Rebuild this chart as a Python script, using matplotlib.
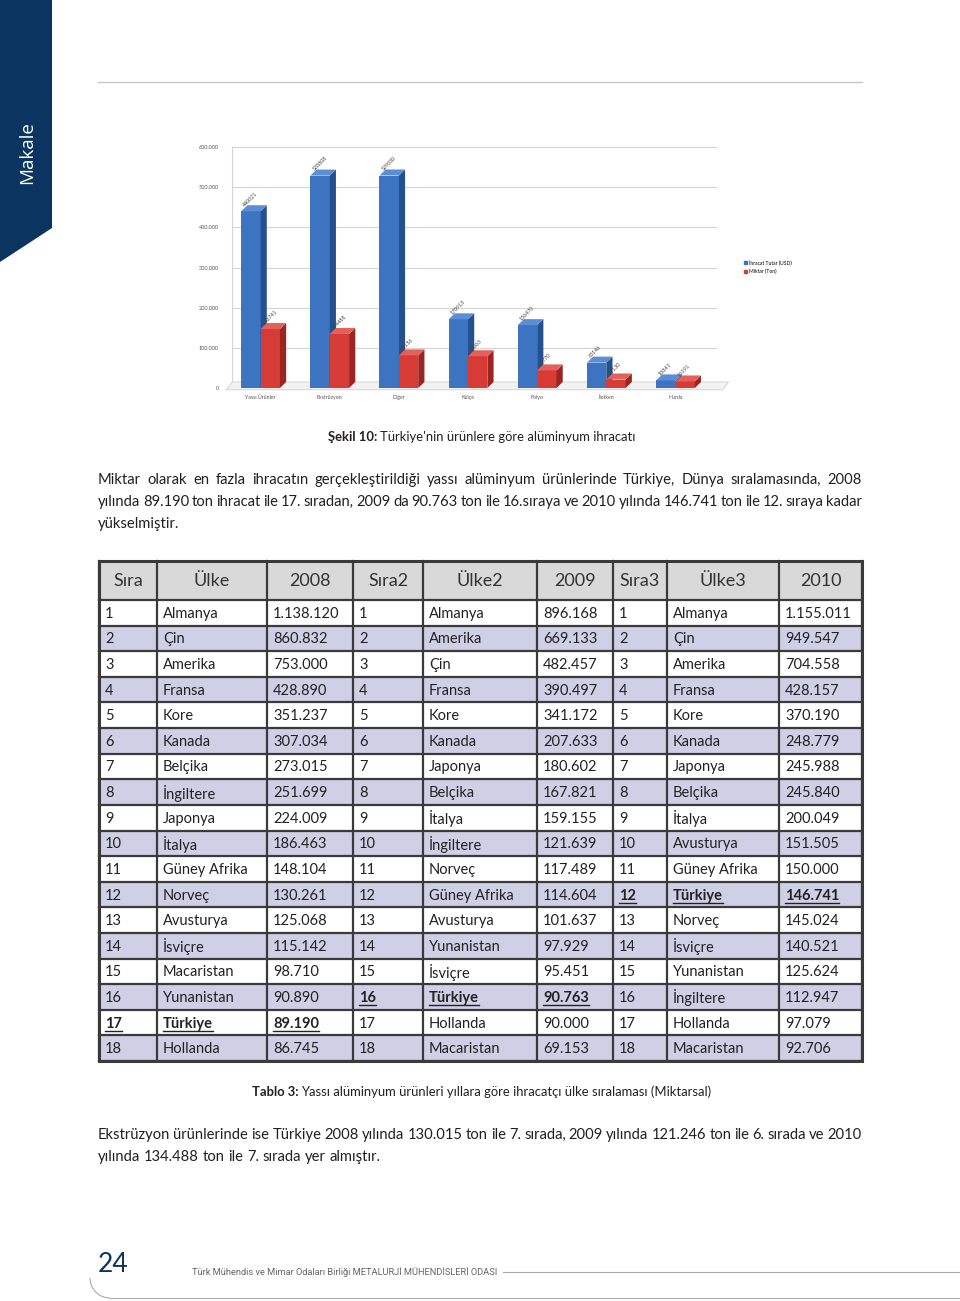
import matplotlib.pyplot as plt
import matplotlib.patches as patches
from matplotlib.patches import Polygon, Patch

plt.rcParams['font.family'] = ['Lato', 'DejaVu Sans']

# chart data
categories = ["Yassı Ürünler", "Ekstrüzyon", "Diğer", "Külçe", "Folyo", "İletken", "Hurda"]
usd_values = [440021, 528808, 529030, 170913, 156470, 63146, 18841]
ton_values = [146741, 134488, 81156, 79063, 43770, 21130, 16191]
y_ticks = [0, 100000, 200000, 300000, 400000, 500000, 600000]

# table data
headers = ["Sıra", "Ülke", "2008", "Sıra2", "Ülke2", "2009", "Sıra3", "Ülke3", "2010"]
ranks = [str(i) for i in range(1, 19)]
countries_2008 = ["Almanya", "Çin", "Amerika", "Fransa", "Kore", "Kanada", "Belçika", "İngiltere",
                  "Japonya", "İtalya", "Güney Afrika", "Norveç", "Avusturya", "İsviçre",
                  "Macaristan", "Yunanistan", "Türkiye", "Hollanda"]
values_2008 = ["1.138.120", "860.832", "753.000", "428.890", "351.237", "307.034", "273.015",
               "251.699", "224.009", "186.463", "148.104", "130.261", "125.068", "115.142",
               "98.710", "90.890", "89.190", "86.745"]
countries_2009 = ["Almanya", "Amerika", "Çin", "Fransa", "Kore", "Kanada", "Japonya", "Belçika",
                  "İtalya", "İngiltere", "Norveç", "Güney Afrika", "Avusturya", "Yunanistan",
                  "İsviçre", "Türkiye", "Hollanda", "Macaristan"]
values_2009 = ["896.168", "669.133", "482.457", "390.497", "341.172", "207.633", "180.602",
               "167.821", "159.155", "121.639", "117.489", "114.604", "101.637", "97.929",
               "95.451", "90.763", "90.000", "69.153"]
countries_2010 = ["Almanya", "Çin", "Amerika", "Fransa", "Kore", "Kanada", "Japonya", "Belçika",
                  "İtalya", "Avusturya", "Güney Afrika", "Türkiye", "Norveç", "İsviçre",
                  "Yunanistan", "İngiltere", "Hollanda", "Macaristan"]
values_2010 = ["1.155.011", "949.547", "704.558", "428.157", "370.190", "248.779", "245.988",
               "245.840", "200.049", "151.505", "150.000", "146.741", "145.024", "140.521",
               "125.624", "112.947", "97.079", "92.706"]

para1 = ["Miktar olarak en fazla ihracatın gerçekleştirildiği yassı alüminyum ürünlerinde Türkiye, Dünya sıralamasında, 2008",
         "yılında 89.190 ton ihracat ile 17. sıradan, 2009 da 90.763 ton ile 16.sıraya ve 2010 yılında 146.741 ton ile 12. sıraya kadar",
         "yükselmiştir."]
para2 = ["Ekstrüzyon ürünlerinde ise Türkiye 2008 yılında 130.015 ton ile 7. sırada, 2009 yılında 121.246 ton ile 6. sırada ve 2010",
         "yılında 134.488 ton ile 7. sırada yer almıştır."]

TEXT = '#231f20'
NAVY = '#0b3461'

fig = plt.figure(figsize=(9.6, 13.01), dpi=100)
page = fig.add_axes([0, 0, 1, 1])
page.set_xlim(0, 960)
page.set_ylim(1301, 0)
page.axis('off')
renderer = fig.canvas.get_renderer()


def width_of(t):
    return t.get_window_extent(renderer=renderer).width


def justify(line, y, x0=98, x1=862, size=10.6, last=False):
    words = line.split(' ')
    texts = [page.text(0, y, w, fontsize=size, color=TEXT, va='center', ha='left') for w in words]
    widths = [width_of(t) for t in texts]
    space = width_of(page.text(0, y, 'a a', fontsize=size, alpha=0)) - width_of(page.text(0, y, 'aa', fontsize=size, alpha=0))
    gap = space if last or len(words) == 1 else (x1 - x0 - sum(widths)) / (len(words) - 1)
    x = x0
    for t, w in zip(texts, widths):
        t.set_x(x)
        x += w + gap


def caption(bold, rest, y, size=9.4):
    b = page.text(0, y, bold, fontsize=size, weight='bold', color=TEXT, va='center')
    r = page.text(0, y, rest, fontsize=size, color=TEXT, va='center')
    wb, wr = width_of(b), width_of(r)
    x0 = 480 - (wb + wr) / 2
    b.set_x(x0)
    r.set_x(x0 + wb + 3)


# side banner
page.add_patch(Polygon([(0, 0), (52, 0), (52, 228), (0, 262)], closed=True, color=NAVY, lw=0))
page.text(27, 153, "Makale", rotation=90, color='white', fontsize=13.5, ha='center', va='center',
          family=['Open Sans', 'DejaVu Sans'])
page.plot([98, 862], [82, 82], color='#c8c8c8', lw=1)

# ---------------- chart ----------------
ax = fig.add_axes([226 / 960, 1 - 388 / 1301, 484 / 960, (388 - 147) / 1301])
ax.set_xlim(-0.5, 6.5)
ax.set_ylim(0, 600000)
dx, dy = 0.09, 15000
bw = 0.28
for yv in y_ticks:
    ax.plot([-0.5 + dx, 6.5 + dx], [yv, yv], color='#d4d4d4', lw=0.8, zorder=0, clip_on=False)
ax.plot([-0.5 + dx, -0.5 + dx], [0, 600000], color='#d4d4d4', lw=0.8, zorder=0, clip_on=False)
# floor
ax.add_patch(Polygon([(-0.5, -dy * 0.3), (6.5 + 2 * dx, -dy * 0.3), (6.5 + 3 * dx, dy), (-0.5 + dx, dy)],
                     closed=True, facecolor='#f2f2f2', edgecolor='#d0d0d0', lw=0.6, zorder=1, clip_on=False))


def bar3d(left, h, front, side, top, label):
    right = left + bw
    ax.bar(left, h, width=bw, align='edge', color=front, zorder=3)
    ax.add_patch(Polygon([(right, 0), (right + dx, dy), (right + dx, h + dy), (right, h)],
                         closed=True, color=side, lw=0, zorder=3, clip_on=False))
    ax.add_patch(Polygon([(left, h), (right, h), (right + dx, h + dy), (left + dx, h + dy)],
                         closed=True, color=top, lw=0, zorder=3, clip_on=False))
    ax.text(left + 0.02, h + dy * 0.6, label, rotation=45, fontsize=3.8, color='#444',
            ha='left', va='bottom', zorder=4, clip_on=False)


for i, (u, t) in enumerate(zip(usd_values, ton_values)):
    bar3d(i - bw, u, '#3d74c2', '#24508e', '#5b8ed4', str(u))
    bar3d(i, t, '#d63b36', '#9a2522', '#e4615b', str(t))

ax.set_yticks(y_ticks)
ax.set_yticklabels(['0' if v == 0 else f"{v // 1000}.000" for v in y_ticks], fontsize=4, color='#555')
ax.set_xticks(range(len(categories)))
ax.set_xticklabels(categories, fontsize=3.8, color='#555')
ax.tick_params(length=0, pad=5)
for s in ax.spines.values():
    s.set_visible(False)
ax.legend(handles=[Patch(color='#3d74c2', label='İhracat Tutar (USD)'),
                   Patch(color='#d63b36', label='Miktar (Ton)')],
          loc='upper left', bbox_to_anchor=(1.06, 0.55), fontsize=3.6, frameon=False,
          handlelength=0.6, handleheight=0.6, labelspacing=0.7, handletextpad=0.4)

caption("Şekil 10:", "Türkiye'nin ürünlere göre alüminyum ihracatı", 437)

# ---------------- paragraph ----------------
justify(para1[0], 480)
justify(para1[1], 502)
justify(para1[2], 524, last=True)

# ---------------- table ----------------
col_edges = [99, 157, 267, 353, 423, 537, 613, 667, 779, 862]
header_top, header_bot = 561, 600
row_h = (1061 - header_bot) / 18
page.add_patch(patches.Rectangle((99, header_top), 763, header_bot - header_top,
                                 facecolor='#d9d9d9', edgecolor='none'))
for c, h in enumerate(headers):
    page.text((col_edges[c] + col_edges[c + 1]) / 2, (header_top + header_bot) / 2 + 1, h,
              fontsize=13, color='#333', ha='center', va='center')

columns = [ranks, countries_2008, values_2008, ranks, countries_2009, values_2009,
           ranks, countries_2010, values_2010]
turkey_rows = {0: 16, 3: 15, 6: 11}   # first column of each year group -> row of Türkiye
for r in range(18):
    top = header_bot + r * row_h
    if r % 2 == 1:
        page.add_patch(patches.Rectangle((99, top), 763, row_h, facecolor='#cfcfe6', edgecolor='none'))
    for c, col in enumerate(columns):
        group = c - c % 3
        hl = turkey_rows[group] == r
        t = page.text(col_edges[c] + 6, top + row_h / 2 + 1, col[r], fontsize=10.5, color='#222',
                      ha='left', va='center', weight='bold' if hl else 'normal')
        if hl:
            w = width_of(t)
            page.plot([col_edges[c] + 6, col_edges[c] + 6 + w], [top + row_h / 2 + 8] * 2,
                      color='#222', lw=1)

# grid lines
for x in col_edges:
    page.plot([x, x], [header_top, 1061], color='#3a3a3a', lw=1.6)
for r in range(19):
    y = header_bot + r * row_h
    page.plot([99, 862], [y, y], color='#3a3a3a', lw=1.6)
page.add_patch(patches.Rectangle((99, header_top), 763, 1061 - header_top, fill=False,
                                 edgecolor='#3a3a3a', lw=2.2))

caption("Tablo 3:", "Yassı alüminyum ürünleri yıllara göre ihracatçı ülke sıralaması (Miktarsal)", 1092)

justify(para2[0], 1135)
justify(para2[1], 1157, last=True)

# ---------------- footer ----------------
page.text(98, 1265, "24", fontsize=19, color=NAVY, ha='left', va='center')
ft = page.text(192, 1272, "Türk Mühendis ve Mimar Odaları Birliği METALURJİ MÜHENDİSLERİ ODASI",
               fontsize=6.7, color='#666', ha='left', va='center',
               family=['Liberation Sans Narrow', 'Roboto', 'DejaVu Sans'])
fx = 192 + width_of(ft) + 6
page.plot([fx, 960], [1272, 1272], color='#aaa', lw=0.8)
page.add_patch(patches.Arc((110, 1278), 40, 40, theta1=90, theta2=180, color='#aaa', lw=0.8))
page.plot([110, 960], [1298, 1298], color='#aaa', lw=0.8)

fig.savefig('out.png', dpi=100)
